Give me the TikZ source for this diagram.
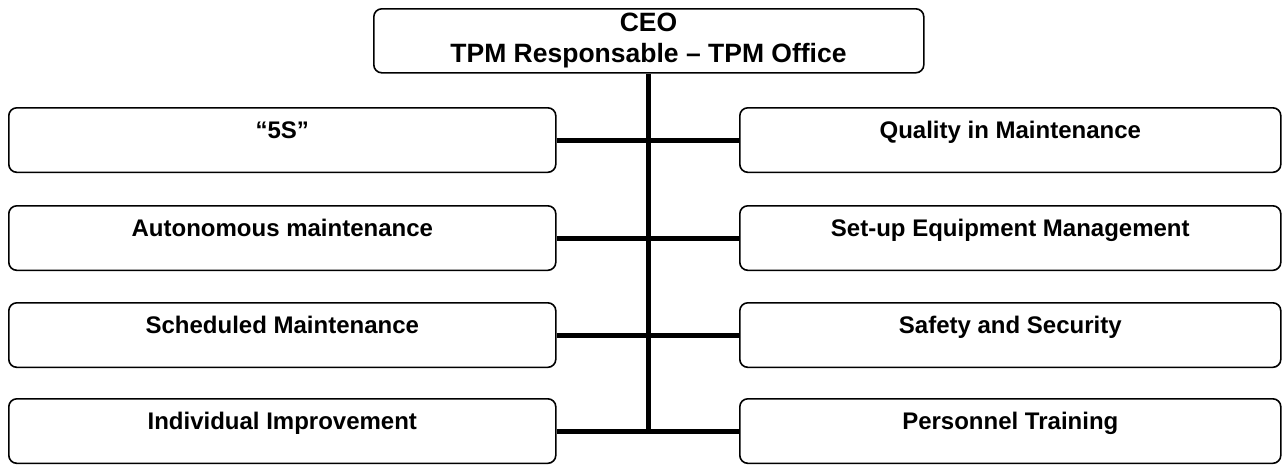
\documentclass[tikz,border=0pt]{standalone}
\usepackage{fontspec}
\setmainfont{Liberation Sans}
\begin{document}
\begin{tikzpicture}[x=1pt,y=-1pt,
  frame/.style={draw,line width=1.6pt,rounded corners=8pt,inner sep=0pt},
  box/.style={frame,font=\bfseries\fontsize{24}{28}\selectfont,text height=30.5pt,text depth=34pt},
  lbox/.style={box,minimum width=547pt,anchor=north west},
  rbox/.style={box,minimum width=541pt,anchor=north west},
  ceotext/.style={font=\bfseries\fontsize{26.5}{31}\selectfont,anchor=base,inner sep=0pt},
  conn/.style={line width=5pt}]
\useasboundingbox (0,0) rectangle (1288,464);
\node[frame,minimum width=550pt,minimum height=64pt,anchor=north west] (ceo) at (373,8) {};
\node[ceotext] (ceo1) at (648.5,31.5) {CEO};
\node[ceotext] (ceo2) at (648.5,62) {TPM Responsable – TPM Office};
\node[lbox] (l1) at (8,107) {“5S”};
\node[lbox] (l2) at (8,205) {Autonomous maintenance};
\node[lbox] (l3) at (8,302) {Scheduled Maintenance};
\node[lbox] (l4) at (8,398) {Individual Improvement};
\node[rbox] (r1) at (739,107) {Quality in Maintenance};
\node[rbox] (r2) at (739,205) {Set-up Equipment Management};
\node[rbox] (r3) at (739,302) {Safety and Security};
\node[rbox] (r4) at (739,398) {Personnel Training};
\coordinate (bot) at (ceo.south |- l4.east);
\draw[conn] (ceo.south) -- ([yshift=2.5pt]bot);
\foreach \i in {1,2,3,4} \draw[conn] (l\i.east) -- (r\i.west);
\end{tikzpicture}
\end{document}
